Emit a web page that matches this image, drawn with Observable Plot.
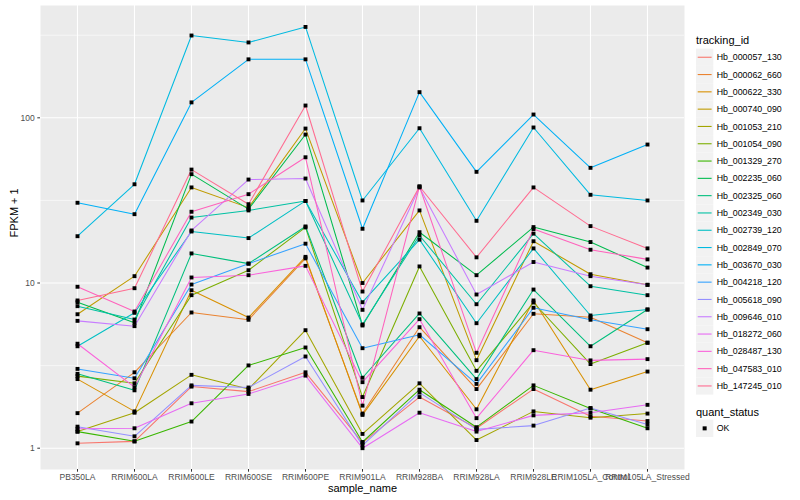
<!DOCTYPE html>
<html>
<head>
<meta charset="utf-8">
<script src="https://cdn.jsdelivr.net/npm/d3@7"></script>
<script src="https://cdn.jsdelivr.net/npm/@observablehq/plot@0.6"></script>
<style>
  html, body { margin: 0; padding: 0; background: white; }
  #wrap { position: relative; width: 800px; height: 500px; font-family: "Liberation Sans", Arial, sans-serif; }
  #chart { position: absolute; left: 0; top: 0; }
  #legend { position: absolute; left: 690px; top: 0; }
</style>
</head>
<body>
<div id="wrap"><div id="chart"></div><div id="legend"></div></div>
<script>
const samples = ["PB350LA","RRIM600LA","RRIM600LE","RRIM600SE","RRIM600PE","RRIM901LA","RRIM928BA","RRIM928LA","RRIM928LE","RRIM105LA_Control","RRIM105LA_Stressed"];

const trackingIds = ["Hb_000057_130","Hb_000062_660","Hb_000622_330","Hb_000740_090","Hb_001053_210","Hb_001054_090","Hb_001329_270","Hb_002235_060","Hb_002325_060","Hb_002349_030","Hb_002739_120","Hb_002849_070","Hb_003670_030","Hb_004218_120","Hb_005618_090","Hb_009646_010","Hb_018272_060","Hb_028487_130","Hb_047583_010","Hb_147245_010"];

// FPKM + 1 per sample (same order as samples)
const Hb_000057_130 = [1.07, 1.10, 2.36, 2.20, 2.88, 1.08, 2.04, 1.32, 2.28, 1.56, 1.46];
const Hb_000062_660 = [1.63, 2.88, 6.63, 5.99, 14.1, 1.62, 5.40, 2.28, 6.51, 6.21, 4.35];
const Hb_000622_330 = [2.62, 1.67, 9.04, 6.18, 14.4, 1.59, 4.76, 1.72, 7.84, 2.26, 2.91];
const Hb_000740_090 = [6.47, 11.0, 37.9, 28.6, 86.1, 10.0, 27.5, 3.41, 17.9, 11.3, 9.75];
const Hb_001053_210 = [1.26, 1.64, 2.78, 2.28, 5.18, 1.22, 2.47, 1.12, 1.67, 1.53, 1.62];
const Hb_001054_090 = [2.73, 2.47, 8.44, 11.95, 21.7, 2.04, 12.6, 2.94, 7.62, 3.23, 4.35];
const Hb_001329_270 = [1.26, 1.10, 1.45, 3.17, 4.07, 1.09, 2.26, 1.34, 2.40, 1.74, 1.32];
const Hb_002235_060 = [7.65, 5.74, 45.6, 28.0, 79.2, 5.53, 20.3, 11.15, 21.8, 17.7, 12.4];
const Hb_002325_060 = [2.82, 2.24, 15.1, 13.1, 22.0, 2.67, 6.54, 2.62, 9.13, 4.14, 6.91];
const Hb_002349_030 = [7.24, 6.01, 24.9, 27.5, 31.4, 5.61, 19.4, 7.44, 19.9, 9.56, 8.44];
const Hb_002739_120 = [4.14, 6.60, 20.5, 18.7, 31.4, 7.65, 18.3, 5.71, 16.2, 6.36, 6.91];
const Hb_002849_070 = [19.2, 39.6, 315, 286, 355, 31.6, 86.5, 23.8, 87.4, 34.2, 31.6];
const Hb_003670_030 = [30.6, 26.1, 124, 226, 226, 21.3, 143, 47.1, 104.7, 49.8, 68.9];
const Hb_004218_120 = [3.02, 2.65, 9.79, 13.1, 17.3, 4.03, 4.86, 2.45, 7.08, 5.99, 5.25];
const Hb_005618_090 = [1.35, 1.18, 2.40, 2.33, 3.59, 1.04, 2.17, 1.30, 1.37, 1.75, 1.39];
const Hb_009646_010 = [5.90, 5.48, 20.8, 42.3, 42.9, 6.88, 37.9, 8.52, 13.4, 11.0, 9.75];
const Hb_018272_060 = [1.31, 1.32, 1.87, 2.13, 2.75, 1.00, 1.64, 1.26, 1.58, 1.64, 1.83];
const Hb_028487_130 = [4.29, 2.34, 10.8, 11.15, 12.7, 2.51, 6.04, 1.52, 3.92, 3.40, 3.46];
const Hb_047583_010 = [9.49, 6.72, 27.0, 34.5, 57.7, 1.81, 38.4, 3.78, 21.2, 15.9, 13.9];
const Hb_147245_010 = [7.84, 9.30, 48.6, 30.0, 118.7, 8.88, 38.4, 14.3, 37.9, 22.1, 16.2];

const quantStatus = ["OK"];
const yTicks = [1, 10, 100];
const yMinor = [Math.sqrt(10), Math.sqrt(1000), Math.sqrt(100000)];

const seriesValues = [Hb_000057_130, Hb_000062_660, Hb_000622_330, Hb_000740_090, Hb_001053_210, Hb_001054_090, Hb_001329_270, Hb_002235_060, Hb_002325_060, Hb_002349_030, Hb_002739_120, Hb_002849_070, Hb_003670_030, Hb_004218_120, Hb_005618_090, Hb_009646_010, Hb_018272_060, Hb_028487_130, Hb_047583_010, Hb_147245_010];

// ggplot2 default hue palette for 20 levels
const palette = ["#F8766D","#EA8331","#D89000","#C09B00","#A3A500","#7CAE00","#39B600","#00BB4E","#00BF7D","#00C1A3","#00BFC4","#00BAE0","#00B0F6","#35A2FF","#9590FF","#C77CFF","#E76BF3","#FA62DB","#FF62BC","#FF6C91"];

const data = trackingIds.flatMap((id, i) =>
  seriesValues[i].map((v, j) => ({tracking_id: id, sample_name: samples[j], fpkm1: v, quant_status: "OK"})));

const FONT = "Liberation Sans, Arial, Helvetica, sans-serif";

const chart = Plot.plot({
  width: 690,
  height: 500,
  marginLeft: 40,
  marginRight: 6,
  marginTop: 5,
  marginBottom: 31,
  style: {background: "white", fontFamily: FONT, overflow: "visible"},
  x: {type: "point", domain: samples, padding: 0.6, label: null},
  y: {type: "log", domain: [0.743, 478.6], label: null},
  color: {domain: trackingIds, range: palette},
  marks: [
    Plot.frame({fill: "#EBEBEB", stroke: null}),
    Plot.ruleY(yMinor, {stroke: "white", strokeWidth: 0.55}),
    Plot.ruleY(yTicks, {stroke: "white", strokeWidth: 1.1}),
    Plot.ruleX(samples, {stroke: "white", strokeWidth: 1.1}),
    Plot.line(data, {x: "sample_name", y: "fpkm1", z: "tracking_id", stroke: "tracking_id", strokeWidth: 1.05}),
    Plot.dot(data, {x: "sample_name", y: "fpkm1", symbol: "square", r: 2.2, fill: "black", stroke: null}),
    Plot.axisX({tickSize: 2.7, tickPadding: 2, fontSize: 8.5, fill: "#4D4D4D", stroke: "#333333", label: null}),
    Plot.axisY({ticks: yTicks, tickFormat: d => String(d), tickSize: 2.7, tickPadding: 3, fontSize: 8.5, fill: "#4D4D4D", stroke: "#333333", label: null}),
    Plot.text(["sample_name"], {frameAnchor: "bottom", dy: 22, fontSize: 11, fill: "black"}),
    Plot.text(["FPKM + 1"], {frameAnchor: "left", dx: -26, rotate: -90, fontSize: 11, fill: "black"})
  ]
});
document.getElementById("chart").appendChild(chart);

// Legend (ggplot-style line keys)
const lg = d3.select("#legend").append("svg")
  .attr("width", 110).attr("height", 500)
  .style("font-family", FONT);

lg.append("text").attr("x", 6).attr("y", 44).attr("font-size", 11).attr("fill", "black").text("tracking_id");
const keyTop = 48.6, keyStep = 17.3;
const items = lg.selectAll("g.item").data(trackingIds).join("g")
  .attr("transform", (d, i) => `translate(6,${keyTop + i * keyStep})`);
items.append("rect").attr("width", 17.3).attr("height", 17.3).attr("fill", "#F2F2F2");
items.append("line").attr("x1", 1.7).attr("x2", 15.6).attr("y1", 8.65).attr("y2", 8.65)
  .attr("stroke", (d, i) => palette[i]).attr("stroke-width", 1.1);
items.append("text").attr("x", 20.7).attr("y", 8.65).attr("dy", "0.35em")
  .attr("font-size", 8.8).attr("fill", "black").text(d => d);

lg.append("text").attr("x", 6).attr("y", 415.5).attr("font-size", 11).attr("fill", "black").text("quant_status");
const q = lg.selectAll("g.q").data(quantStatus).join("g").attr("transform", "translate(6,419.7)");
q.append("rect").attr("width", 17.3).attr("height", 17.3).attr("fill", "#F2F2F2");
q.append("rect").attr("x", 6.65).attr("y", 6.65).attr("width", 4).attr("height", 4).attr("fill", "black");
q.append("text").attr("x", 20.7).attr("y", 8.65).attr("dy", "0.35em").attr("font-size", 8.8).attr("fill", "black").text(d => d);
</script>
</body>
</html>
